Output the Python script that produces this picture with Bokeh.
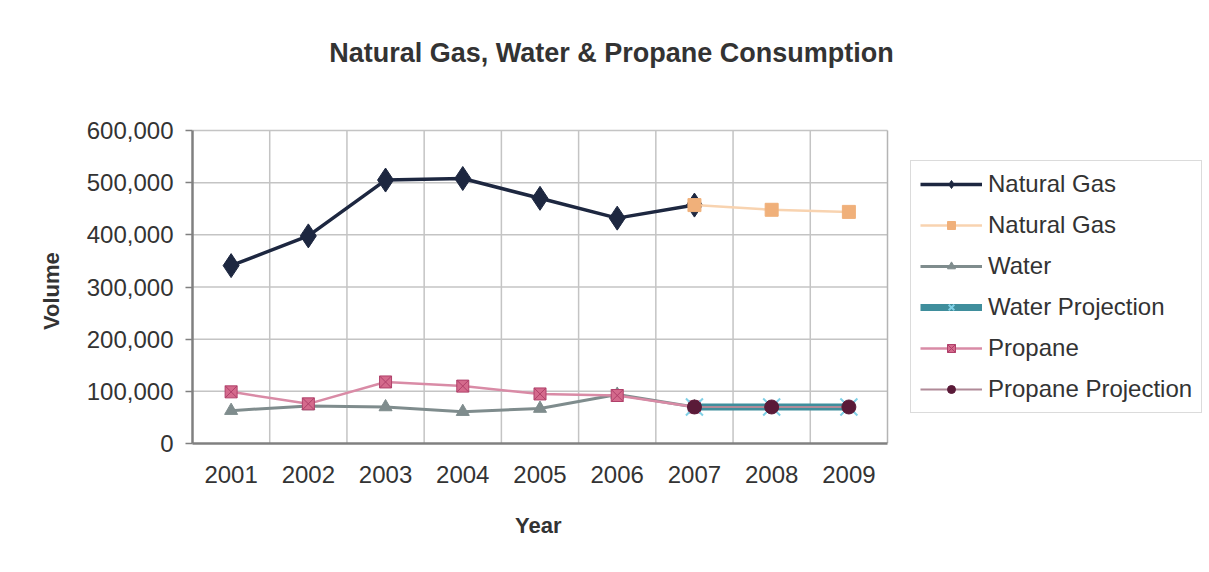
from bokeh.plotting import figure
from bokeh.models import (Legend, LegendItem, FixedTicker, NumeralTickFormatter, Range1d, Label, Title)
from bokeh.embed import file_html
from bokeh.resources import INLINE

years = [2001, 2002, 2003, 2004, 2005, 2006, 2007, 2008, 2009]
hist_years = [2001, 2002, 2003, 2004, 2005, 2006, 2007]
proj_years = [2007, 2008, 2009]

natural_gas = [341000, 398000, 505000, 508000, 470000, 432000, 457000]
natural_gas_proj = [457000, 448000, 444000]
water = [63000, 72000, 70000, 61000, 67000, 94000, 70000]
water_proj = [70000, 70000, 70000]
propane = [99000, 76000, 118000, 110000, 95000, 92000, 70000]
propane_proj = [70000, 70000, 70000]

y_ticks = [0, 100000, 200000, 300000, 400000, 500000, 600000]

FONT = "Liberation Sans"
W, H = 1209, 572

# layout in pixels: plot area 192..887 (x), 130..443 (y)
PL, PR, PT, PB = 192, 887, 130, 443
x0, x1 = years[0] - 0.5, years[-1] + 0.5
y0, y1 = y_ticks[0], y_ticks[-1]
px_per_x = (PR - PL) / (x1 - x0)
px_per_y = (PB - PT) / (y1 - y0)
x_end = x0 + (W - PL) / px_per_x
y_end = y0 + PB / px_per_y

p = figure(width=W, height=H, output_backend="svg", toolbar_location=None,
           x_range=Range1d(x0, x_end), y_range=Range1d(y0, y_end),
           min_border_left=PL, min_border_right=0, min_border_top=0, min_border_bottom=H - PB)
p.background_fill_color = "white"
p.border_fill_color = "white"
p.outline_line_color = None
p.xgrid.visible = False
p.ygrid.visible = False

# axes
p.xaxis.ticker = FixedTicker(ticks=years)
p.xaxis.formatter = NumeralTickFormatter(format="0")
p.xaxis.bounds = (x0, x1)
p.yaxis.ticker = FixedTicker(ticks=y_ticks)
p.yaxis.formatter = NumeralTickFormatter(format="0,0")
p.yaxis.bounds = (y0, y1)
for ax in (p.xaxis[0], p.yaxis[0]):
    ax.axis_line_color = "#808080"
    ax.axis_line_width = 2.5
    ax.major_tick_line_color = "#808080"
    ax.major_tick_line_width = 1.5
    ax.minor_tick_line_color = None
    ax.major_label_text_font = FONT
    ax.major_label_text_font_size = "24px"
    ax.major_label_text_color = "#333333"

p.xaxis.major_tick_out = 0
p.xaxis.major_tick_in = 0
p.xaxis.major_label_standoff = 22

p.yaxis.major_tick_out = 7
p.yaxis.major_tick_in = 0
p.yaxis.major_label_standoff = 12

# axis titles placed under / beside the plot area
x_title = Title(text="Year", align="left", offset=(PL + PR) / 2 - PL - 25,
                text_font=FONT, text_font_size="22px", text_font_style="bold",
                text_color="#333333", standoff=50)
p.add_layout(x_title, "below")
y_title = Title(text="Volume", align="left", offset=PB - (PT + PB) / 2 - 43,
                text_font=FONT, text_font_size="22px", text_font_style="bold",
                text_color="#333333", standoff=40)
p.add_layout(y_title, "left")

# grid lines limited to the plot area
bounds = [x + 0.5 for x in years[:-1]]
p.segment(x0=bounds, x1=bounds, y0=[y0] * len(bounds), y1=[y1] * len(bounds),
          line_color="#c4c4c4", line_width=1.5)
p.segment(x0=[x0] * (len(y_ticks) - 1), x1=[x1] * (len(y_ticks) - 1),
          y0=y_ticks[1:], y1=y_ticks[1:], line_color="#c4c4c4", line_width=1.5)
p.segment(x0=[x1], x1=[x1], y0=[y0], y1=[y1], line_color="#b4b4b4", line_width=1.5)

# series
r_wl = p.line(hist_years, water, line_color="#7f8c8d", line_width=3)
r_wm = p.scatter(hist_years, water, marker="triangle", size=13, fill_color="#7f8c8d", line_color="#7f8c8d")

r_pl = p.line(hist_years, propane, line_color="#d98ba6", line_width=2.5)
r_pm = p.scatter(hist_years, propane, marker="square_x", size=12, fill_color="#d46a8c", line_color="#b0406a")

r_wpl = p.line(proj_years, water_proj, line_color="#3f8e9c", line_width=7)
r_wpm = p.scatter(proj_years, water_proj, marker="x", size=24, line_color="#7fd0e6", line_width=2)

r_ppl = p.line(proj_years, propane_proj, line_color="#b08a98", line_width=2)
r_ppm = p.scatter(proj_years, propane_proj, marker="circle", size=14, fill_color="#5a1a38", line_color="#5a1a38")

r_gl = p.line(hist_years, natural_gas, line_color="#1d2740", line_width=3.5)
r_gm = p.scatter(hist_years, natural_gas, marker="diamond", size=24, fill_color="#1d2740", line_color="#1d2740")

r_gpl = p.line(proj_years, natural_gas_proj, line_color="#f8d3b0", line_width=2.5)
r_gpm = p.scatter(proj_years, natural_gas_proj, marker="square", size=13, fill_color="#f0b07a", line_color="#f0b07a")

# chart title
title = Label(x=x0 + (611 - PL) / px_per_x, y=y0 + (PB - 52) / px_per_y,
              text="Natural Gas, Water & Propane Consumption",
              text_font=FONT, text_font_size="27px", text_font_style="bold",
              text_color="#333333", text_align="center", text_baseline="middle")
p.add_layout(title)

legend = Legend(items=[
    LegendItem(label="Natural Gas", renderers=[r_gl, r_gm]),
    LegendItem(label="Natural Gas", renderers=[r_gpl, r_gpm]),
    LegendItem(label="Water", renderers=[r_wl, r_wm]),
    LegendItem(label="Water Projection", renderers=[r_wpl, r_wpm]),
    LegendItem(label="Propane", renderers=[r_pl, r_pm]),
    LegendItem(label="Propane Projection", renderers=[r_ppl, r_ppm]),
], location=(910 - PL, PB - 413))
legend.label_text_font = FONT
legend.label_text_font_size = "24px"
legend.label_text_color = "#333333"
legend.glyph_width = 62
legend.glyph_height = 20
legend.label_height = 20
legend.spacing = 13
legend.padding = 9
legend.margin = 0
legend.label_standoff = 6
legend.border_line_color = "#b8b8b8"
legend.border_line_width = 1.5
legend.background_fill_color = "white"
p.add_layout(legend)

open("out.html", "w").write(file_html(p, INLINE))
